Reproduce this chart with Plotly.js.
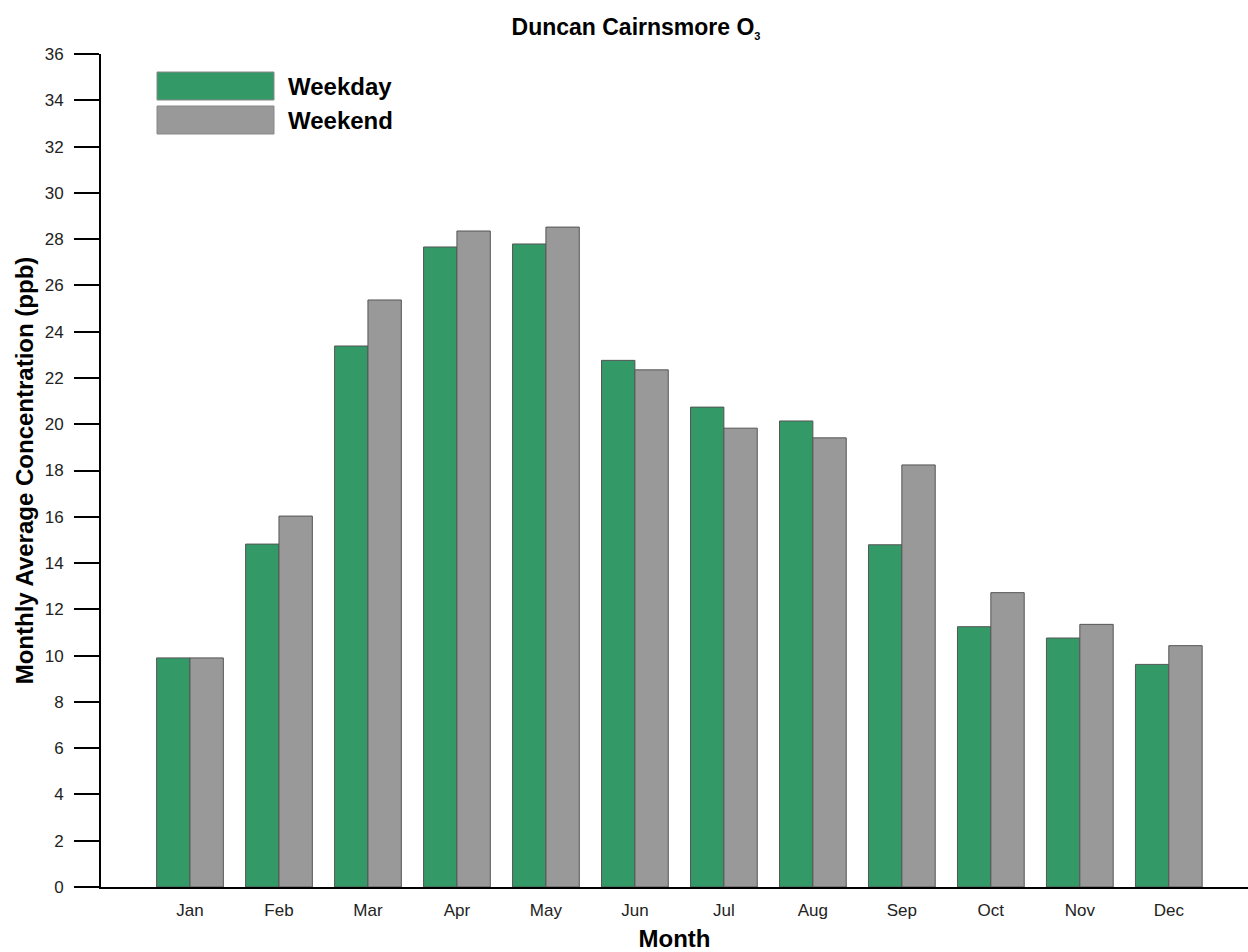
<!DOCTYPE html>
<html>
<head>
<meta charset="utf-8">
<script src="https://cdn.plot.ly/plotly-3.0.1.min.js"></script>
<style>html,body{margin:0;padding:0;background:#fff;}#chart{width:1248px;height:952px;}</style>
</head>
<body>
<div id="chart"></div>
<script>
const months = ["Jan","Feb","Mar","Apr","May","Jun","Jul","Aug","Sep","Oct","Nov","Dec"];
const weekday = [9.9, 14.82, 23.38, 27.66, 27.79, 22.76, 20.74, 20.14, 14.79, 11.25, 10.76, 9.62];
const weekend = [9.9, 16.03, 25.37, 28.35, 28.52, 22.35, 19.83, 19.41, 18.24, 12.72, 11.35, 10.43];
const seriesNames = ["Weekday", "Weekend"];
const seriesColors = ["#339966", "#999999"];
const yTicks = [0,2,4,6,8,10,12,14,16,18,20,22,24,26,28,30,32,34,36];

const FONT = "Liberation Sans, Arial, sans-serif";
const idx = months.map((m, i) => i);

const traces = [weekday, weekend].map((vals, k) => ({
  type: "bar",
  x: idx,
  y: vals,
  name: seriesNames[k],
  marker: {color: seriesColors[k], line: {color: "#555555", width: 1}},
  showlegend: false,
  hoverinfo: "x+y"
}));

const shapes = [];
const annotations = [];
seriesNames.forEach((n, k) => {
  const y0 = 1 - (18 + k * 34) / 833;
  const y1 = 1 - (46 + k * 34) / 833;
  shapes.push({type: "rect", xref: "paper", yref: "paper",
    x0: 56 / 1147, x1: 173 / 1147, y0: y1, y1: y0,
    fillcolor: seriesColors[k], line: {color: "#888888", width: 1}});
  annotations.push({xref: "paper", yref: "paper", x: 185 / 1147, y: (y0 + y1) / 2,
    xanchor: "left", yanchor: "middle", showarrow: false, text: "<b>" + n + "</b>",
    font: {family: FONT, size: 24, color: "#000"}});
});

const layout = {
  width: 1248, height: 952,
  paper_bgcolor: "#fff", plot_bgcolor: "#fff",
  margin: {l: 101, r: 0, t: 54, b: 65},
  font: {family: FONT, color: "#000"},
  title: {text: "<b>Duncan Cairnsmore O<sub><span style=\"font-size:11px\">3</span></sub></b>",
    x: 636 / 1248, xanchor: "center", xref: "container",
    y: 1 - 27 / 952, yanchor: "middle",
    font: {family: FONT, size: 23, color: "#000"}},
  barmode: "group",
  bargap: 0.25,
  bargroupgap: 0,
  xaxis: {
    range: [-1, 11.89],
    tickvals: idx, ticktext: months,
    ticks: "", showgrid: false, zeroline: false,
    showline: true, linecolor: "#000", linewidth: 2,
    tickfont: {family: FONT, size: 17, color: "#222"},
    ticklabelstandoff: 7,
    title: {text: "<b>Month</b>", font: {family: FONT, size: 24, color: "#000"}, standoff: 13},
    fixedrange: true
  },
  yaxis: {
    range: [0, 36],
    tickvals: yTicks,
    ticks: "outside", ticklen: 25, tickwidth: 2, tickcolor: "#000",
    showgrid: false, zeroline: false,
    showline: true, linecolor: "#000", linewidth: 2,
    tickfont: {family: FONT, size: 17, color: "#222"},
    ticklabelstandoff: 7,
    title: {text: "<b>Monthly Average Concentration (ppb)</b>", font: {family: FONT, size: 24, color: "#000"}, standoff: 4},
    fixedrange: true
  },
  shapes: shapes,
  annotations: annotations
};

Plotly.newPlot("chart", traces, layout, {displayModeBar: false, staticPlot: true});
</script>
</body>
</html>
